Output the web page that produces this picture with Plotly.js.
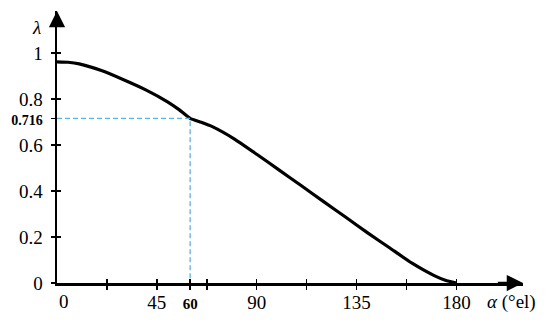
<!DOCTYPE html>
<html>
<head>
<meta charset="utf-8">
<script src="https://cdn.plot.ly/plotly-3.0.1.min.js"></script>
<style>
  html, body { margin: 0; padding: 0; background: #fff; }
  #plotArea { width: 550px; height: 327px; }
</style>
</head>
<body>
<div id="plotArea"></div>
<script>
// curve
var alphaDeg = [0, 5, 10, 20, 30, 40, 50, 55, 60, 65, 70, 80, 90, 100, 110, 120, 130, 140, 150, 160, 170, 175, 180];
var lambdaVal = [0.962, 0.960, 0.953, 0.924, 0.884, 0.840, 0.787, 0.754, 0.716, 0.699, 0.680, 0.626, 0.560, 0.492, 0.424, 0.355, 0.287, 0.218, 0.152, 0.086, 0.032, 0.012, 0];

// marked point
var markAlpha = 60;
var markLambda = 0.716;

var yTickVals = [0, 0.2, 0.4, 0.6, 0.716, 0.8, 1];
var yTickText = ["0", "0.2", "0.4", "0.6", '<span style="font-size:14px"><b>0.716</b></span>', "0.8", "1"];
var xTickVals = [22.5, 45, 60, 67.5, 90, 112.5, 135, 157.5, 180];
var xTickText = ["", "45", '<span style="font-size:15px"><b>60</b></span>', "", "90", "", "135", "", "180"];

var serif = "Liberation Serif";
var xMax = 210, yMax = 1.183;

var curve = {
  x: alphaDeg, y: lambdaVal,
  type: "scatter", mode: "lines",
  line: {color: "#000", width: 3.2, shape: "spline", smoothing: 0.5},
  cliponaxis: false, hoverinfo: "skip"
};

var guide = {
  x: [0, markAlpha, markAlpha], y: [markLambda, markLambda, 0],
  xaxis: "x2", yaxis: "y2",
  type: "scatter", mode: "lines",
  line: {color: "#5ab4e6", width: 1.3, dash: "5px,3px"},
  hoverinfo: "skip"
};

var data = [guide, curve];

var layout = {
  width: 550, height: 327,
  margin: {l: 57, r: 27, t: 11, b: 44},
  paper_bgcolor: "#fff", plot_bgcolor: "#fff",
  showlegend: false,
  font: {family: serif, size: 19, color: "#000"},
  xaxis: {
    range: [0, xMax], showgrid: false, zeroline: false,
    showline: true, linecolor: "#000", linewidth: 2.5,
    tickmode: "array", tickvals: xTickVals, ticktext: xTickText,
    ticks: "outside", ticklen: 4, tickwidth: 1.5, tickcolor: "#000",
    tickfont: {family: serif, size: 19, color: "#000"}, ticklabelstandoff: -3
  },
  yaxis: {
    range: [0, yMax], showgrid: false, zeroline: false,
    showline: true, linecolor: "#000", linewidth: 2.5,
    tickmode: "array", tickvals: yTickVals, ticktext: yTickText,
    ticks: "outside", ticklen: 4, tickwidth: 1.5, tickcolor: "#000",
    tickfont: {family: serif, size: 19, color: "#000"}, ticklabelstandoff: 4
  },
  xaxis2: {
    overlaying: "x", anchor: "y2", range: [0, xMax],
    showgrid: false, zeroline: false, showline: false,
    tickmode: "array", tickvals: xTickVals, showticklabels: false,
    ticks: "inside", ticklen: 4, tickwidth: 1.5, tickcolor: "#000"
  },
  yaxis2: {
    overlaying: "y", anchor: "x2", range: [0, yMax],
    showgrid: false, zeroline: false, showline: false,
    tickmode: "array", tickvals: yTickVals.filter(function (v) { return v !== markLambda; }),
    showticklabels: false,
    ticks: "inside", ticklen: 4, tickwidth: 1.5, tickcolor: "#000"
  },
  annotations: [
    {x: xMax, y: 0, ax: xMax - 12, ay: 0, xref: "x", yref: "y", axref: "x", ayref: "y",
     text: "", showarrow: true, arrowhead: 2, arrowsize: 1.3, arrowwidth: 2.5, arrowcolor: "#000", standoff: 0},
    {x: 0, y: yMax, ax: 0, ay: yMax - 0.06, xref: "x", yref: "y", axref: "x", ayref: "y",
     text: "", showarrow: true, arrowhead: 2, arrowsize: 1.3, arrowwidth: 2.5, arrowcolor: "#000", standoff: 0},
    {x: 0, y: 0, xref: "x", yref: "y", text: "0", showarrow: false,
     xanchor: "left", yanchor: "top", xshift: 0, yshift: -6, font: {family: serif, size: 19, color: "#000"}},
    {x: -0.043, y: 0.941, xref: "paper", yref: "paper", text: "<i>λ</i>", showarrow: false,
     xanchor: "center", yanchor: "middle", font: {family: serif, size: 19, color: "#000"}},
    {x: 0.918, y: -0.07, xref: "paper", yref: "paper", text: "<i>α</i> (°el)", showarrow: false,
     xanchor: "left", yanchor: "middle", font: {family: serif, size: 19, color: "#000"}}
  ]
};

Plotly.newPlot("plotArea", data, layout, {staticPlot: true, displayModeBar: false});
</script>
</body>
</html>
